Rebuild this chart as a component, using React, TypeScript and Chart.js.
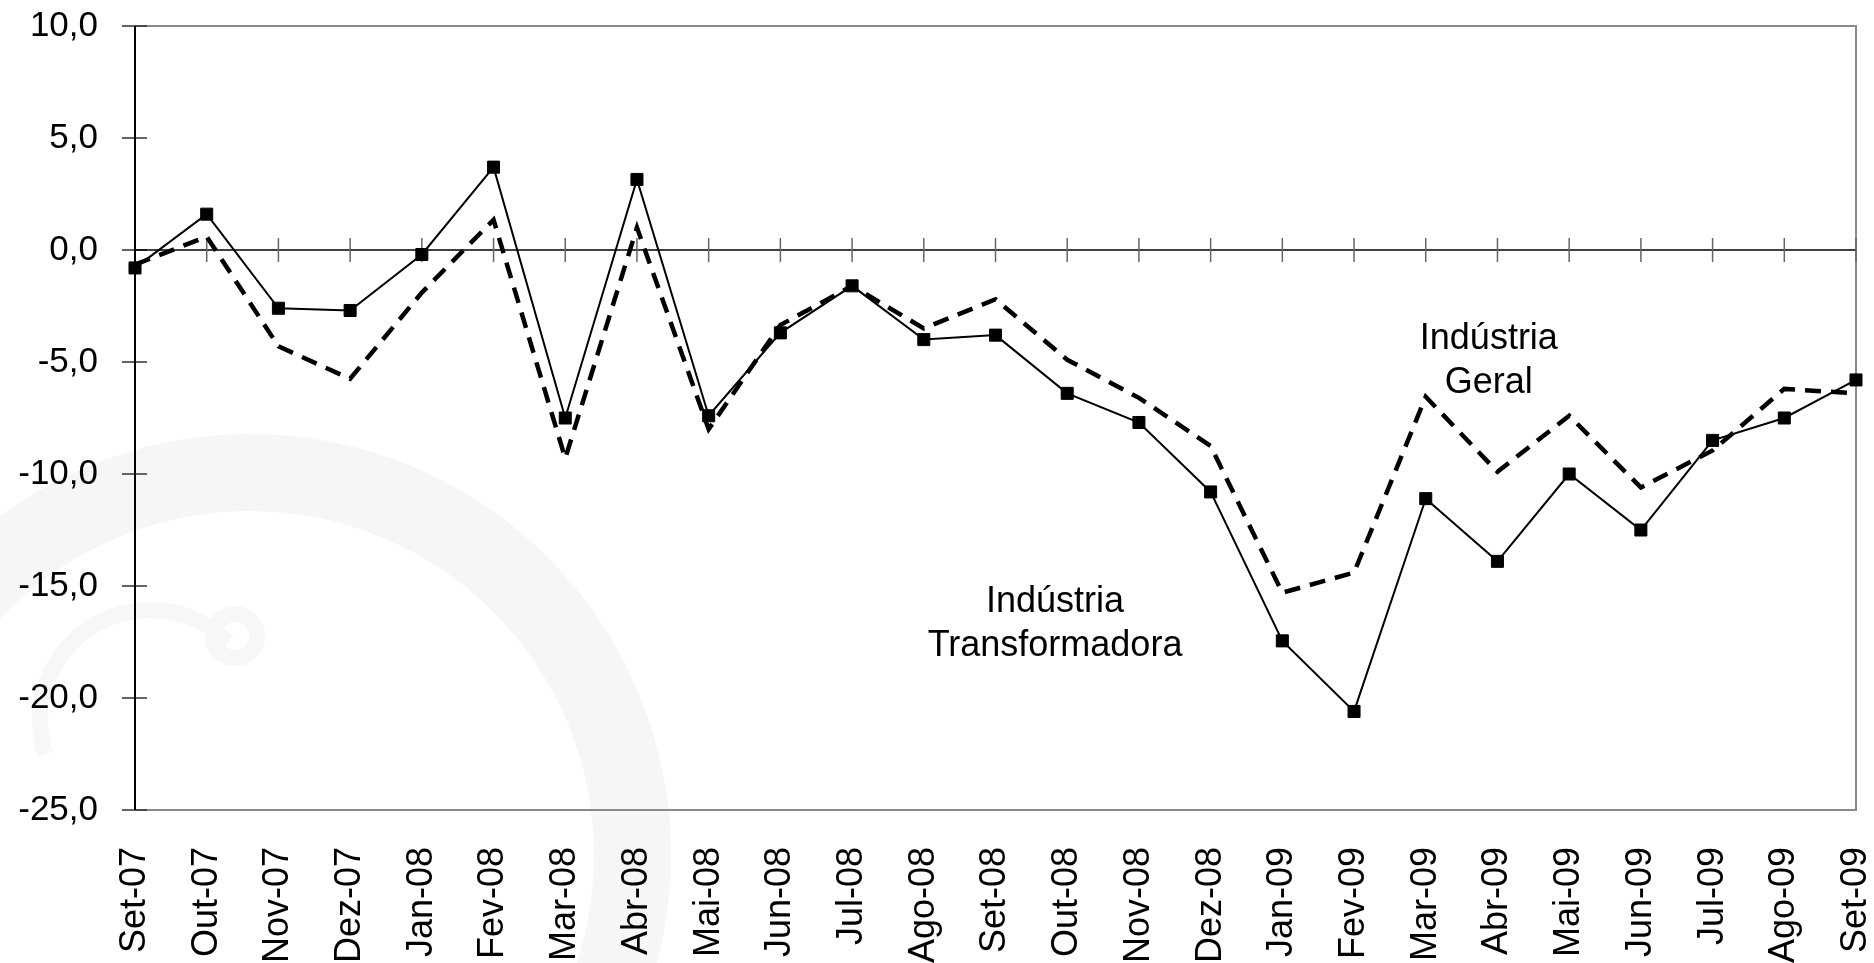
import React, { useEffect, useRef } from "react";
import { Chart, registerables } from "chart.js";

Chart.register(...registerables);

const months = [
  "Set-07", "Out-07", "Nov-07", "Dez-07", "Jan-08", "Fev-08", "Mar-08", "Abr-08",
  "Mai-08", "Jun-08", "Jul-08", "Ago-08", "Set-08", "Out-08", "Nov-08", "Dez-08",
  "Jan-09", "Fev-09", "Mar-09", "Abr-09", "Mai-09", "Jun-09", "Jul-09", "Ago-09", "Set-09",
];

const industriaTransformadora = [
  -0.8, 1.6, -2.6, -2.7, -0.2, 3.7, -7.5, 3.15, -7.4, -3.7, -1.6, -4.0, -3.8,
  -6.4, -7.7, -10.8, -17.45, -20.6, -11.1, -13.9, -10.0, -12.5, -8.5, -7.5, -5.8,
];

const industriaGeral = [
  -0.65, 0.6, -4.3, -5.75, -1.9, 1.35, -9.3, 1.0, -8.0, -3.35, -1.6, -3.5, -2.2,
  -4.9, -6.6, -8.75, -15.3, -14.4, -6.55, -9.9, -7.4, -10.6, -8.95, -6.2, -6.4,
];

const yMin = -25;
const yMax = 10;
const yStep = 5;

const annotGeralLines = ["Indústria", "Geral"];
const annotGeralAnchor = { x: 18.88, y: [-4.42, -6.38] };
const annotTransfLines = ["Indústria", "Transformadora"];
const annotTransfAnchor = { x: 12.83, y: [-16.16, -18.13] };

const FONT = "'Liberation Sans', Arial, sans-serif";

const decorPlugin = {
  id: "decor",
  beforeDraw(chart: any) {
    const { ctx } = chart;
    ctx.save();
    // faint watermark ring
    ctx.fillStyle = "#f6f6f6";
    ctx.beginPath();
    ctx.arc(250, 855, 421, 0, Math.PI * 2);
    ctx.arc(250, 855, 344, 0, Math.PI * 2, true);
    ctx.fill("evenodd");
    ctx.strokeStyle = "#f7f7f7";
    ctx.lineWidth = 16;
    ctx.beginPath();
    ctx.arc(235, 636, 22, 0, Math.PI * 2);
    ctx.stroke();
    ctx.beginPath();
    ctx.arc(150, 720, 110, Math.PI * 0.9, Math.PI * 1.75);
    ctx.stroke();
    ctx.restore();
  },
  beforeDatasetsDraw(chart: any) {
    const { ctx, chartArea: a, scales } = chart;
    const x = scales.x;
    const y = scales.y;
    ctx.save();
    ctx.strokeStyle = "#8a8a8a";
    ctx.lineWidth = 2;
    ctx.beginPath();
    ctx.moveTo(a.left, a.top);
    ctx.lineTo(a.right, a.top);
    ctx.lineTo(a.right, a.bottom);
    ctx.lineTo(a.left, a.bottom);
    ctx.stroke();
    ctx.strokeStyle = "#333";
    ctx.lineWidth = 1.5;
    y.ticks.forEach((t: any) => {
      const py = y.getPixelForValue(t.value);
      ctx.beginPath();
      ctx.moveTo(a.left - 13, py);
      ctx.lineTo(a.left + 12, py);
      ctx.stroke();
    });
    ctx.strokeStyle = "#000";
    ctx.lineWidth = 2;
    ctx.beginPath();
    ctx.moveTo(a.left, a.top);
    ctx.lineTo(a.left, a.bottom);
    ctx.stroke();
    const y0 = y.getPixelForValue(0);
    ctx.strokeStyle = "#000";
    ctx.lineWidth = 1.5;
    ctx.beginPath();
    ctx.moveTo(a.left, y0);
    ctx.lineTo(a.right, y0);
    ctx.stroke();
    ctx.strokeStyle = "#666";
    ctx.lineWidth = 1.5;
    for (let i = 1; i < months.length; i++) {
      const px = x.getPixelForValue(i);
      ctx.beginPath();
      ctx.moveTo(px, y0 - 12);
      ctx.lineTo(px, y0 + 12);
      ctx.stroke();
    }
    ctx.restore();
  },
  afterDatasetsDraw(chart: any) {
    const { ctx, scales } = chart;
    const x = scales.x;
    const y = scales.y;
    ctx.save();
    ctx.fillStyle = "#000";
    ctx.font = `36px ${FONT}`;
    ctx.textAlign = "center";
    ctx.textBaseline = "alphabetic";
    const drawLines = (lines: string[], anchor: { x: number; y: number[] }) => {
      const px = x.getPixelForValue(anchor.x);
      lines.forEach((s, i) => ctx.fillText(s, px, y.getPixelForValue(anchor.y[i])));
    };
    drawLines(annotGeralLines, annotGeralAnchor);
    drawLines(annotTransfLines, annotTransfAnchor);
    ctx.restore();
  },
};

export default function App() {
  const ref = useRef<HTMLCanvasElement | null>(null);
  useEffect(() => {
    if (!ref.current) return;
    Chart.defaults.font.family = FONT;
    Chart.defaults.color = "#000";
    const chart = new Chart(ref.current, {
      type: "line",
      data: {
        labels: months,
        datasets: [
          {
            label: "Indústria Transformadora",
            data: industriaTransformadora,
            borderColor: "#000",
            backgroundColor: "#000",
            borderWidth: 2,
            pointStyle: "rect",
            pointRadius: 8.5,
            pointBorderWidth: 1,
            pointBackgroundColor: "#000",
            pointBorderColor: "#000",
            tension: 0,
            fill: false,
          },
          {
            label: "Indústria Geral",
            data: industriaGeral,
            borderColor: "#000",
            borderWidth: 4.5,
            borderDash: [16, 10],
            pointRadius: 0,
            tension: 0,
            fill: false,
          },
        ],
      },
      options: {
        animation: false,
        responsive: false,
        devicePixelRatio: 1,
        layout: { padding: { top: 26, right: 18, bottom: 0, left: 0 } },
        plugins: {
          legend: { display: false },
          tooltip: { enabled: false },
        },
        scales: {
          x: {
            type: "category",
            offset: false,
            grid: { display: false, drawTicks: false },
            border: { display: false },
            ticks: {
              autoSkip: false,
              minRotation: 90,
              maxRotation: 90,
              padding: 37,
              font: { size: 36, family: FONT },
              color: "#000",
            },
            afterFit: (s: any) => {
              s.height = 153;
              s.paddingLeft = 0;
              s.paddingRight = 0;
            },
          },
          y: {
            min: yMin,
            max: yMax,
            grid: { display: false, drawTicks: false },
            border: { display: false },
            ticks: {
              stepSize: yStep,
              padding: 37,
              font: { size: 35, family: FONT },
              color: "#000",
              callback: (v: any) => Number(v).toFixed(1).replace(".", ","),
            },
            afterFit: (s: any) => {
              s.width = 135;
              s.paddingTop = 0;
              s.paddingBottom = 0;
            },
          },
        },
      },
      plugins: [decorPlugin],
    });
    return () => chart.destroy();
  }, []);
  return (
    <div style={{ position: "fixed", left: 0, top: 0, width: 1874, height: 963, background: "#fff" }}>
      <canvas ref={ref} width={1874} height={963} style={{ width: 1874, height: 963, display: "block" }} />
    </div>
  );
}
